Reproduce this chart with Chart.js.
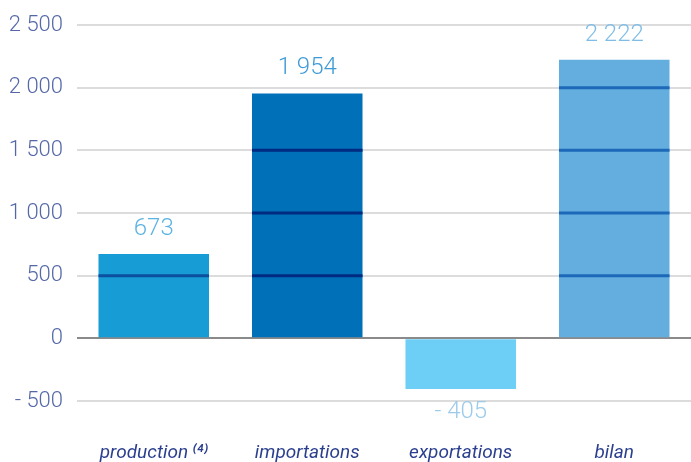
<!DOCTYPE html>
<html>
<head>
<meta charset="utf-8">
<script src="https://cdn.jsdelivr.net/npm/chart.js@4.4.0/dist/chart.umd.min.js"></script>
<style>
  html, body { margin: 0; padding: 0; background: #fff; overflow: hidden; }
</style>
</head>
<body>
<canvas id="bilanChart" width="691" height="462"></canvas>
<script>
var categories = ['production\u2009\u207D\u2074\u207E', 'importations', 'exportations', 'bilan'];
var values = [673, 1954, -405, 2222];
var tickValues = [-500, 0, 500, 1000, 1500, 2000, 2500];

var barColors = ['#189cd5', '#0071b9', '#6dcff6', '#63aedf'];
var innerGridColors = ['#0b4f9e', '#002b80', '#2e8fd0', '#1d68b9'];
var labelColors = ['#5cb3e2', '#3f9bd6', '#9ccbea', '#7fbde6'];

function fmt(v) {
    var s = Math.abs(v).toString().replace(/\B(?=(\d{3})+(?!\d))/g, ' ');
    return v < 0 ? '- ' + s : s;
}

// lignes de grille par-dessus les barres + valeurs
var barOverlay = {
    id: 'barOverlay',
    afterDatasetsDraw: function (chart) {
        var ctx = chart.ctx;
        var yScale = chart.scales.y;
        var meta = chart.getDatasetMeta(0);
        meta.data.forEach(function (bar, i) {
            var left = bar.x - bar.width / 2;
            var right = bar.x + bar.width / 2;
            var top = Math.min(bar.y, bar.base);
            var bottom = Math.max(bar.y, bar.base);
            ctx.save();
            ctx.strokeStyle = innerGridColors[i];
            ctx.lineWidth = 3;
            tickValues.forEach(function (t) {
                if (t === 0) return;
                var y = yScale.getPixelForValue(t);
                if (y > top + 1 && y < bottom - 1) {
                    ctx.beginPath();
                    ctx.moveTo(left, y);
                    ctx.lineTo(right, y);
                    ctx.stroke();
                }
            });
            ctx.font = '300 24px Roboto';
            ctx.fillStyle = labelColors[i];
            ctx.textAlign = 'center';
            ctx.textBaseline = 'middle';
            var v = values[i];
            var ly = v >= 0 ? bar.y - 25 : bar.y + 23;
            ctx.fillText(fmt(v), bar.x, ly);
            ctx.restore();
        });
    }
};

var ctx = document.getElementById('bilanChart').getContext('2d');
var bilanChart = new Chart(ctx, {
    type: 'bar',
    data: {
        labels: categories,
        datasets: [{
            data: values,
            backgroundColor: barColors,
            borderWidth: 0,
            barPercentage: 0.72,
            categoryPercentage: 1
        }]
    },
    options: {
        responsive: false,
        animation: false,
        layout: { padding: { top: 9, right: 0, bottom: 0, left: 0 } },
        plugins: {
            legend: { display: false },
            tooltip: { enabled: false }
        },
        scales: {
            x: {
                afterFit: function (scale) { scale.height = 61; },
                grid: { display: false },
                border: { display: false },
                ticks: {
                    padding: 33,
                    maxRotation: 0,
                    color: '#2b3f8f',
                    font: { family: 'Roboto', size: 19, style: 'italic' }
                }
            },
            y: {
                min: -500,
                max: 2500,
                afterFit: function (scale) { scale.width = 77; },
                afterBuildTicks: function (scale) {
                    scale.ticks = tickValues.map(function (v) { return { value: v }; });
                },
                border: { display: false },
                grid: {
                    drawTicks: false,
                    lineWidth: 2,
                    color: function (c) { return c.tick && c.tick.value === 0 ? '#8a8a8a' : '#dcdcdc'; }
                },
                ticks: {
                    padding: 14,
                    color: '#5468a8',
                    font: { family: 'Roboto', size: 22, weight: '300', lineHeight: 1 },
                    callback: function (v) { return fmt(v); }
                }
            }
        }
    },
    plugins: [barOverlay]
});
</script>
</body>
</html>
